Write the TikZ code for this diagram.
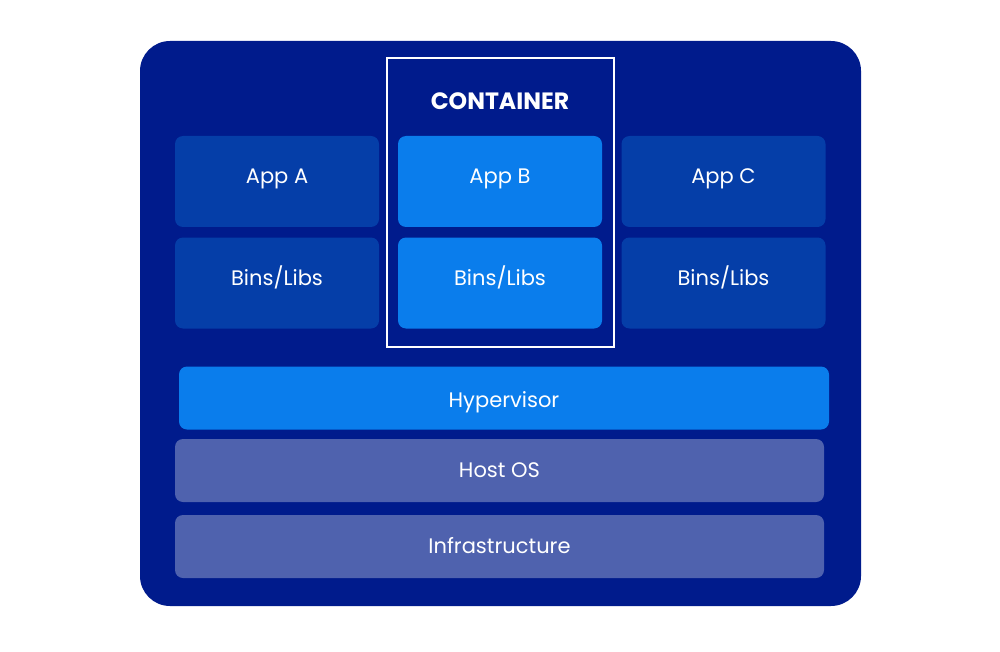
\documentclass[tikz,border=0pt]{standalone}
\usepackage{fontspec}
\setmainfont{Poppins}
\definecolor{navy}{RGB}{0,27,140}
\definecolor{appdark}{RGB}{5,62,168}
\definecolor{appbright}{RGB}{10,125,236}
\definecolor{hostgrey}{RGB}{79,98,174}
\begin{document}
\begin{tikzpicture}[x=0.5pt, y=-0.5pt,
  layer/.style={rounded corners=4pt, inner sep=0pt, text=white, font=\fontsize{10.5}{12}\selectfont},
  appbox/.style={layer, minimum width=102pt, minimum height=45.5pt, text height=7.5pt, text depth=5pt},
  wide/.style={layer, minimum width=325pt, minimum height=31.5pt, text height=7.5pt, text depth=1pt}]
\useasboundingbox (0,0) rectangle (1000,652);

\node[fill=navy, rounded corners=15pt, minimum width=360.5pt, minimum height=282.5pt] (host) at (500.5,323.5) {};
\draw[white, line width=1pt] (387,58) rectangle (614,347);
\node[text=white, font=\fontsize{11.8}{13}\selectfont\bfseries] (ctr) at (500,101) {CONTAINER};

\node[appbox, fill=appdark] (appa) at (277,181.5) {App A};
\node[appbox, fill=appbright] (appb) at (500,181.5) {App B};
\node[appbox, fill=appdark] (appc) at (723.5,181.5) {App C};
\node[appbox, fill=appdark] (binsa) at (277,283) {Bins/Libs};
\node[appbox, fill=appbright] (binsb) at (500,283) {Bins/Libs};
\node[appbox, fill=appdark] (binsc) at (723.5,283) {Bins/Libs};

\node[wide, fill=appbright, text height=9pt, text depth=0pt] (hyp) at (504,398) {Hypervisor};
\node[wide, fill=hostgrey, minimum width=324.5pt] (os) at (499.5,470.5) {Host OS};
\node[wide, fill=hostgrey, minimum width=324.5pt] (infra) at (499.5,546.5) {Infrastructure};

\end{tikzpicture}
\end{document}
